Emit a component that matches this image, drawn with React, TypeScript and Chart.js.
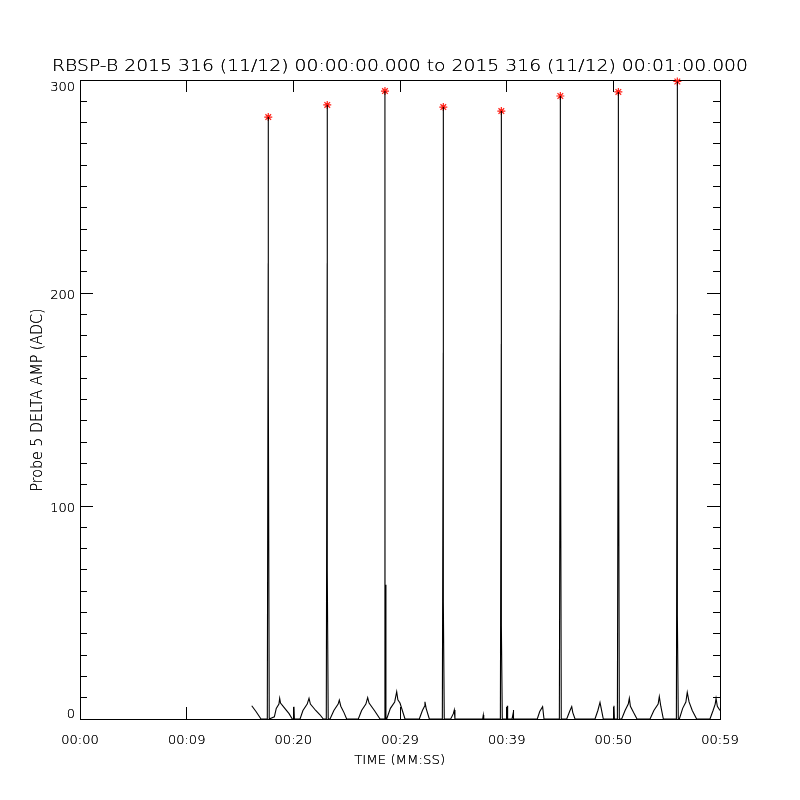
import React, { useEffect, useRef } from 'react';
import { Chart, registerables } from 'chart.js';

Chart.register(...registerables);

const TITLE = 'RBSP-B 2015 316 (11/12) 00:00:00.000 to 2015 316 (11/12) 00:01:00.000';
const Y_TITLE = 'Probe 5 DELTA AMP (ADC)';
const X_TITLE = 'TIME (MM:SS)';

const X_TICK_VALUES = [0, 10, 20, 30, 40, 50, 60];
const X_TICK_LABELS = ['00:00', '00:09', '00:20', '00:29', '00:39', '00:50', '00:59'];
const Y_TICK_VALUES = [0, 100, 200, 300];

// Probe 5 delta amplitude trace (time in seconds, amplitude in ADC)
const TIME_S = [
  16.10, 16.50, 16.97,
  17.56, 17.645, 17.65, 17.655, 17.74,
  18.22, 18.40, 18.65, 18.72, 18.80, 19.20, 19.60, 19.90,
  20.00, 20.06, 20.10,
  20.63, 20.90, 21.30, 21.47, 21.60, 22.10, 22.50, 22.81,
  23.09, 23.175, 23.18, 23.185, 23.27,
  23.44, 23.80, 24.20, 24.31, 24.45, 24.75, 25.00,
  26.09, 26.40, 26.80, 26.97, 27.10, 27.60, 28.13,
  28.50, 28.585, 28.59, 28.595, 28.68,
  28.75, 29.10, 29.50, 29.69, 29.80, 30.00, 30.47,
  31.81, 32.10, 32.30, 32.34, 32.45, 32.75,
  33.97, 34.055, 34.06, 34.065, 34.15,
  34.75, 35.00, 35.09, 35.15,
  37.75, 37.81, 37.85,
  39.41, 39.495, 39.50, 39.505, 39.59,
  40.03, 40.06, 40.09,
  40.50, 40.60, 40.62, 40.66,
  42.87, 43.10, 43.37, 43.50,
  44.94, 45.025, 45.03, 45.035, 45.12,
  45.63, 45.90, 46.10, 46.20, 46.41,
  48.28, 48.55, 48.75, 48.90, 49.06,
  50.00, 50.06, 50.10,
  50.38, 50.465, 50.47, 50.475, 50.56,
  50.78, 51.10, 51.40, 51.50, 51.60, 51.90, 52.22,
  53.44, 53.80, 54.20, 54.31, 54.45, 54.69,
  55.91, 55.995, 56.00, 56.005, 56.09,
  56.19, 56.50, 56.80, 56.93, 57.10, 57.40, 57.81,
  59.06, 59.35, 59.55, 59.63, 59.75, 60.00,
];
const AMP_ADC = [
  6.2, 3.5, 0,
  0, 214, 282.6, 164, 0,
  1, 5, 7, 9.7, 7.5, 5, 2.5, 0,
  0, 5.8, 0,
  0, 4, 7, 9.7, 7, 4, 2, 0,
  0, 214, 288.3, 70, 0,
  0, 4, 7, 8.9, 6, 3, 0,
  0, 4, 7, 10, 7.5, 4, 0,
  0, 210, 294.8, 63, 0,
  0, 5, 8, 12.8, 9, 7.5, 0,
  0, 4, 6, 8.1, 5, 0,
  0, 172, 287.3, 55, 0,
  0, 2.5, 4.2, 0,
  0, 1.9, 0,
  0, 176, 285.4, 44, 0,
  0, 6.2, 0,
  0, 2.5, 4.2, 0,
  0, 3.5, 5.8, 0,
  0, 192, 292.5, 182, 0,
  0, 3.5, 5.8, 3, 0,
  0, 4, 7.8, 4, 0,
  0, 6.2, 0,
  0, 192, 294.4, 188, 0,
  0, 4, 7, 9.7, 6, 3, 0,
  0, 4, 7, 10.5, 6, 0,
  0, 190, 299.3, 49, 0,
  0, 5, 8, 12.5, 8, 4, 0,
  0, 4, 7, 9.7, 6, 4,
];

// detected pulse peaks (red asterisks)
const PEAK_T = [17.65, 23.18, 28.59, 34.06, 39.5, 45.03, 50.47, 56.0];
const PEAK_V = [282.6, 288.3, 294.8, 287.3, 285.4, 292.5, 294.4, 299.3];

const FONT = '"DejaVu Sans"';

// thin text drawn twice so the light strokes come out dark like the vector font
function drawThin(ctx: CanvasRenderingContext2D, text: string, x: number, y: number, size: number, align: CanvasTextAlign, width: number | null, rot: number) {
  ctx.save();
  ctx.font = `200 ${size}px ${FONT}`;
  const w = ctx.measureText(text).width;
  ctx.translate(x, y);
  ctx.rotate(rot);
  if (width) ctx.scale(width / w, 1);
  ctx.textAlign = align;
  ctx.textBaseline = 'alphabetic';
  ctx.fillStyle = '#000';
  ctx.fillText(text, 0, 0);
  ctx.fillText(text, 0, 0);
  ctx.restore();
}

const textPlugin = {
  id: 'idlText',
  afterDraw(chart: any) {
    const ctx: CanvasRenderingContext2D = chart.ctx;
    const area = chart.chartArea;
    const yScale = chart.scales.y;
    const xScale = chart.scales.x;
    drawThin(ctx, TITLE, 400, 70.7, 15, 'center', 696, 0);
    drawThin(ctx, X_TITLE, 399.7, 764, 13, 'center', 91, 0);
    drawThin(ctx, Y_TITLE, 41.5, 400, 15, 'center', 183, -Math.PI / 2);
    for (const v of Y_TICK_VALUES) {
      const p = yScale.getPixelForValue(v);
      const b = Math.min(Math.max(p + 6, area.top + 10.7), area.bottom - 1.3);
      drawThin(ctx, String(v), 75, b, 13, 'right', null, 0);
    }
    X_TICK_VALUES.forEach((v, i) => {
      drawThin(ctx, X_TICK_LABELS[i], xScale.getPixelForValue(v), 744, 13, 'center', null, 0);
    });
  },
};

export default function App() {
  const ref = useRef<HTMLCanvasElement>(null);
  useEffect(() => {
    const trace = TIME_S.map((t, i) => ({ x: t, y: AMP_ADC[i] }));
    const peaks = PEAK_T.map((t, i) => ({ x: t, y: PEAK_V[i] }));
    const gridCommon = { drawOnChartArea: false, color: '#000', tickColor: '#000', tickWidth: 1, lineWidth: 1 };
    const border = { display: true, color: '#000', width: 1 };
    const chart = new Chart(ref.current as HTMLCanvasElement, {
      type: 'line',
      data: {
        datasets: [
          {
            data: trace,
            borderColor: '#000',
            borderWidth: 1.1,
            pointRadius: 0,
            tension: 0,
            fill: false,
            xAxisID: 'x',
            yAxisID: 'y',
          },
          {
            data: peaks,
            showLine: false,
            pointStyle: 'star',
            pointRadius: 4,
            pointBorderColor: 'rgb(255,30,20)',
            pointBackgroundColor: 'rgb(255,30,20)',
            pointBorderWidth: 1.2,
            clip: false,
            xAxisID: 'x',
            yAxisID: 'y',
          } as any,
        ],
      },
      options: {
        animation: false,
        responsive: false,
        devicePixelRatio: 1,
        events: [],
        layout: { padding: { top: 68, left: 0, right: 0, bottom: 0 } },
        plugins: { legend: { display: false }, tooltip: { enabled: false }, title: { display: false } },
        scales: {
          x: {
            type: 'linear',
            position: 'bottom',
            min: 0,
            max: 60,
            afterBuildTicks: (s: any) => { s.ticks = X_TICK_VALUES.map((v) => ({ value: v })); },
            afterFit: (s: any) => { s.height = 81; },
            ticks: { display: false },
            grid: { ...gridCommon, tickLength: -12 },
            border,
          },
          x2: {
            type: 'linear',
            position: 'top',
            min: 0,
            max: 60,
            afterBuildTicks: (s: any) => { s.ticks = X_TICK_VALUES.map((v) => ({ value: v })); },
            afterFit: (s: any) => { s.height = 12; },
            ticks: { display: false },
            grid: { ...gridCommon, tickLength: -12 },
            border,
          },
          y: {
            type: 'linear',
            position: 'left',
            weight: 1,
            min: 0,
            max: 300,
            afterBuildTicks: (s: any) => { s.ticks = Y_TICK_VALUES.map((v) => ({ value: v })); },
            afterFit: (s: any) => { s.width = 80; },
            ticks: { display: false },
            grid: { ...gridCommon, tickLength: -13 },
            border,
          },
          yMinor: {
            type: 'linear',
            position: 'left',
            weight: 0,
            min: 0,
            max: 300,
            afterFit: (s: any) => { s.width = 0; },
            ticks: { display: false, stepSize: 10, maxTicksLimit: 100 },
            grid: { ...gridCommon, tickLength: -7 },
            border,
          },
          y2: {
            type: 'linear',
            position: 'right',
            weight: 1,
            min: 0,
            max: 300,
            afterBuildTicks: (s: any) => { s.ticks = Y_TICK_VALUES.map((v) => ({ value: v })); },
            afterFit: (s: any) => { s.width = 80; },
            ticks: { display: false },
            grid: { ...gridCommon, tickLength: -13 },
            border,
          },
          y2Minor: {
            type: 'linear',
            position: 'right',
            weight: 0,
            min: 0,
            max: 300,
            afterFit: (s: any) => { s.width = 0; },
            ticks: { display: false, stepSize: 10, maxTicksLimit: 100 },
            grid: { ...gridCommon, tickLength: -7 },
            border,
          },
        },
      } as any,
      plugins: [textPlugin],
    });
    return () => chart.destroy();
  }, []);
  return (
    <div style={{ position: 'absolute', left: 0, top: 0, width: 800, height: 800, background: '#fff' }}>
      <canvas ref={ref} width={800} height={800} style={{ display: 'block' }} />
    </div>
  );
}
